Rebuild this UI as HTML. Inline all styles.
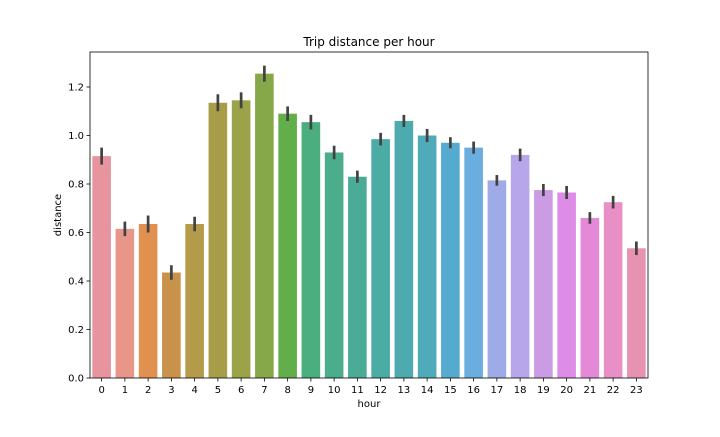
<!DOCTYPE html>
<html><head><meta charset="utf-8"><style>
body{margin:0;background:#fff;font-family:"Liberation Sans","DejaVu Sans",sans-serif}
svg text{font-family:"DejaVu Sans","Liberation Sans",sans-serif;fill:#000}
</style></head><body>
<svg id="chart" width="720" height="432">
<rect width="720" height="432" fill="#fff"/>
<g id="bars"></g>
<g id="axes"></g>
</svg>
<script>
const categories=["0","1","2","3","4","5","6","7","8","9","10","11","12","13","14","15","16","17","18","19","20","21","22","23"];
const values=[0.915,0.615,0.635,0.435,0.635,1.135,1.145,1.255,1.09,1.055,0.93,0.83,0.985,1.06,1.0,0.97,0.95,0.815,0.92,0.775,0.765,0.66,0.725,0.535];
const errors=[0.035,0.03,0.035,0.03,0.03,0.035,0.033,0.033,0.03,0.03,0.028,0.025,0.026,0.025,0.027,0.023,0.025,0.022,0.026,0.025,0.027,0.024,0.026,0.028];
const colors=["#e8949e","#e8968a","#e09150","#c8924a","#b49b4a","#a79c48","#9aa347","#86a848","#62ae4a","#4aae7f","#4bad8c","#4aab96","#4baca6","#4daaaf","#4faab9","#54aacf","#6aaee0","#9eabe6","#b7a6ea","#cb9be4","#de8de6","#e488d8","#e88fc5","#e892b1"];
const yTicks=[0,0.2,0.4,0.6,0.8,1.0,1.2];
const yTickLabels=["0.0","0.2","0.4","0.6","0.8","1.0","1.2"];
const L=90,R=648,T=52,B=378,YMAX=(B-T)/242.5;
const NS="http://www.w3.org/2000/svg";
const slot=(R-L)/categories.length;
function x(i){return L+slot*(i+0.5);}
function y(v){return B-v*242.5;}
function mk(tag,attrs,parent){const e=document.createElementNS(NS,tag);for(const k in attrs)e.setAttribute(k,attrs[k]);parent.appendChild(e);return e;}
const bars=document.getElementById('bars'),axes=document.getElementById('axes');
categories.forEach((c,i)=>{
  const w=slot*0.8;
  const r=mk('rect',{x:x(i)-w/2,y:y(values[i]),width:w,height:B-y(values[i]),fill:colors[i]},bars);
  
  
  const e=mk('line',{x1:x(i),x2:x(i),y1:y(values[i]-errors[i]),y2:y(values[i]+errors[i]),stroke:'#424242','stroke-width':2.7},bars);
  
  
  mk('line',{x1:x(i),x2:x(i),y1:B,y2:B+3.5,stroke:'#000','stroke-width':0.8},axes);
  const t=mk('text',{x:x(i),y:B+15,'text-anchor':'middle','font-size':10},axes);
  t.textContent=c;
  
  
});
yTicks.forEach((v,i)=>{
  mk('line',{x1:L-3.5,x2:L,y1:y(v),y2:y(v),stroke:'#000','stroke-width':0.8},axes);
  const t=mk('text',{x:L-6,y:y(v)+3.5,'text-anchor':'end','font-size':10},axes);
  t.textContent=yTickLabels[i];
  
  
});
const f=mk('rect',{x:L,y:T,width:R-L,height:B-T,fill:'none',stroke:'#000','stroke-width':0.8},axes);


const tt=mk('text',{x:(L+R)/2,y:T-6,'text-anchor':'middle','font-size':12},axes);
tt.textContent='Trip distance per hour';


const xl=mk('text',{x:(L+R)/2,y:B+29,'text-anchor':'middle','font-size':10},axes);
xl.textContent='hour';


const yl=mk('text',{x:0,y:0,'text-anchor':'middle','font-size':10,transform:'translate(61,'+((T+B)/2)+') rotate(-90)'},axes);
yl.textContent='distance';


</script>
</body></html>
